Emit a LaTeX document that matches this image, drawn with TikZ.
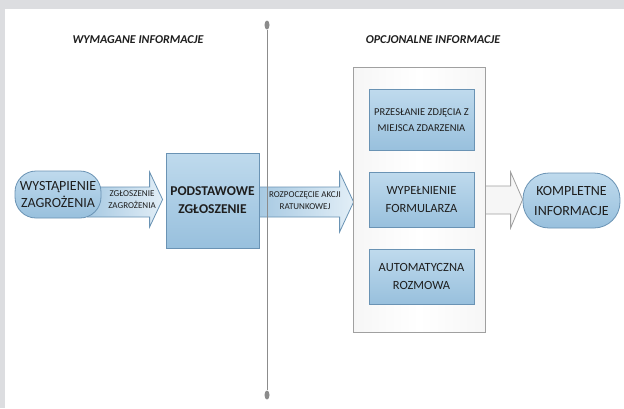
\documentclass[tikz,border=0pt]{standalone}
\usepackage{fontspec}
\setmainfont{Carlito}
\usetikzlibrary{shapes.geometric}
\usetikzlibrary{backgrounds}
\usetikzlibrary{calc}

\definecolor{panelgray}{HTML}{DCDDE0}
\definecolor{boxtop}{HTML}{BFDAED}
\definecolor{boxbot}{HTML}{98C0DD}
\definecolor{boxline}{HTML}{6A93B4}
\definecolor{txtcol}{HTML}{1E1E1E}
\definecolor{optline}{HTML}{A0A0A0}
\definecolor{optfill}{HTML}{F6F6F6}
\definecolor{rulecol}{HTML}{8C8C8C}

\tikzset{
  stage/.style={draw=boxline, line width=0.8pt, top color=boxtop, bottom color=boxbot,
    text=txtcol, align=center, inner sep=2pt},
  terminal/.style={stage, rounded corners=21pt},
  heading/.style={text=txtcol, font=\bfseries\itshape\fontsize{12}{14}\selectfont},
  flow/.style={draw=boxline, line width=0.8pt, left color=boxbot!85, right color=boxtop!45},
  optflow/.style={draw=optline, line width=0.8pt, fill=optfill},
  flowtext/.style={text=txtcol, align=center, font=\fontsize{9}{12}\selectfont},
  rulerdot/.style={ellipse, fill=rulecol, minimum width=5pt, minimum height=9pt, inner sep=0pt}
}

\begin{document}
\begin{tikzpicture}[x=1pt,y=-1pt]
  \useasboundingbox (0,0) rectangle (624,408);
  \begin{scope}[on background layer]
    \fill[panelgray] (0,0) rectangle (624,408);
    \fill[white] (5,9) rectangle (624,408);
  \end{scope}

  % headings and divider
  \node[heading] (reqhead) at (138,40) {WYMAGANE INFORMACJE};
  \node[heading] (opthead) at (433,40) {OPCJONALNE INFORMACJE};
  \node[rulerdot] (ruletop) at (267,25) {};
  \node[rulerdot] (rulebot) at (267,395) {};
  \draw[rulecol, line width=1pt] (ruletop) -- (rulebot);

  % required part
  \node[terminal, minimum width=86pt, minimum height=47pt, font=\fontsize{14}{17}\selectfont]
    (threat) at (58,194.5) {WYSTĄPIENIE\\ZAGROŻENIA};
  \node[stage, minimum width=93pt, minimum height=95pt, font=\bfseries\fontsize{13.5}{18}\selectfont]
    (base) at (212.5,200.5) {PODSTAWOWE\\ZGŁOSZENIE};

  % optional part
  \node[draw=optline, line width=0.8pt, left color=optfill, right color=optfill, middle color=white,
    minimum width=132pt, minimum height=265pt] (opt) at (419,199.5) {};
  \node[stage, minimum width=105pt, minimum height=61pt, font=\fontsize{10.5}{16}\selectfont]
    (photo) at (421.5,120) {PRZESŁANIE ZDJĘCIA Z\\MIEJSCA ZDARZENIA};
  \node[stage, minimum width=105pt, minimum height=55pt, font=\fontsize{12.5}{18}\selectfont]
    (form) at (421.5,199.5) {WYPEŁNIENIE\\FORMULARZA};
  \node[stage, minimum width=105pt, minimum height=55pt, font=\fontsize{12.5}{18}\selectfont]
    (talk) at (421.5,276.5) {AUTOMATYCZNA\\ROZMOWA};

  \node[terminal, rounded corners=26pt, minimum width=97pt, minimum height=55pt,
    font=\fontsize{14}{20}\selectfont] (full) at (571.5,200.5) {KOMPLETNE\\INFORMACJE};

  % block arrows between the stages
  \begin{scope}[on background layer]
    \draw[flow] let \p1=(threat.east), \p2=(base.west), \p3=(base.center) in
      (\x1-14,\y3+13.5) -- (\x2-16,\y3+13.5) -- (\x2-16,\y3+28.5) -- (\x2-3,\y3+1)
      -- (\x2-16,\y3-26.5) -- (\x2-16,\y3-16.5) -- (\x1-14,\y3-16.5) -- cycle;
    \draw[flow] let \p1=(base.east), \p2=(opt.west), \p3=(base.center) in
      (\x1,\y3+13.5) -- (\x2-13,\y3+13.5) -- (\x2-13,\y3+28.5) -- (\x2+1,\y3-1.5)
      -- (\x2-13,\y3-31.5) -- (\x2-13,\y3-16.5) -- (\x1,\y3-16.5) -- cycle;
    \draw[optflow] let \p1=(opt.east), \p2=(full.west), \p3=(opt.center) in
      (\x1,\y3+13.5) -- (\x2-12,\y3+13.5) -- (\x2-12,\y3+27.5) -- (\x2,\y3)
      -- (\x2-12,\y3-28.5) -- (\x2-12,\y3-14.5) -- (\x1,\y3-14.5) -- cycle;
  \end{scope}
  \node[flowtext] (reporttext) at (132,200) {ZGŁOSZENIE\\ZAGROŻENIA};
  \node[flowtext] (rescuetext) at (305,200.5) {ROZPOCZĘCIE AKCJI\\RATUNKOWEJ};
\end{tikzpicture}
\end{document}
